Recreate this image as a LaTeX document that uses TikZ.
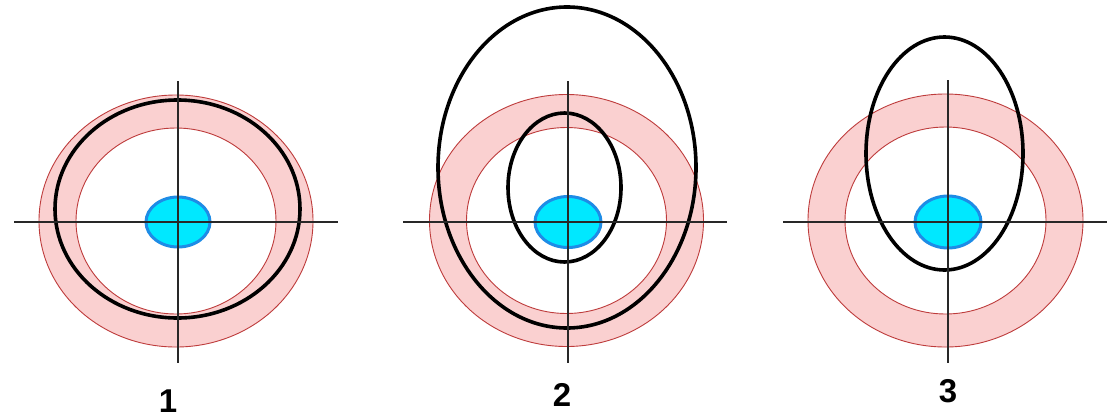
\documentclass[tikz,border=0pt]{standalone}
\usepackage{fontspec}
\setmainfont{Liberation Sans}
\definecolor{ringfill}{RGB}{250,208,208}
\definecolor{ringedge}{RGB}{190,60,60}
\definecolor{pupfill}{RGB}{0,232,255}
\definecolor{pupedge}{RGB}{30,140,230}
\definecolor{axiscol}{RGB}{40,40,40}
\tikzset{
  ringband/.style={fill=ringfill, even odd rule},
  ringline/.style={draw=ringedge, line width=0.9pt},
  axisline/.style={draw=axiscol, line width=1.3pt},
  orbit/.style={draw=black, line width=3.6pt},
  pupil/.style={fill=pupfill, draw=pupedge, line width=3pt},
  numlabel/.style={inner sep=0pt, font=\fontsize{33}{33}\selectfont\bfseries}
}
\begin{document}
\begin{tikzpicture}[x=1pt,y=-1pt]
\useasboundingbox[fill=white] (0,0) rectangle (1107,418);
% ---------- figure 1 ----------
\coordinate (r1) at (176,221);
\coordinate (c1) at (178,222);
\fill[ringband] (r1) ellipse (137 and 126) (r1) ellipse (100 and 93);
\draw[ringline] (r1) ellipse (137 and 126);
\draw[ringline] (r1) ellipse (100 and 93);
\draw[orbit] (177.5,209) ellipse (122.5 and 109);
\draw[pupil] (c1) ellipse (32 and 25);
\coordinate (h1a) at (14,222); \coordinate (h1b) at (338,222);
\coordinate (v1a) at (178,81); \coordinate (v1b) at (178,363);
\draw[axisline] (h1a) -- (h1b);
\draw[axisline] (v1a) -- (v1b);
\node[numlabel] (lab1) at (168,401) {1};
% ---------- figure 2 ----------
\coordinate (r2) at (566.5,220.5);
\coordinate (c2) at (568,222);
\fill[ringband] (r2) ellipse (137 and 126) (r2) ellipse (100 and 93);
\draw[ringline] (r2) ellipse (137 and 126);
\draw[ringline] (r2) ellipse (100 and 93);
\draw[orbit] (567,167.5) ellipse (129 and 160.5);
\draw[orbit] (564.5,187.5) ellipse (56.5 and 74.5);
\draw[pupil] (c2) ellipse (33 and 25.5);
\coordinate (h2a) at (403,222); \coordinate (h2b) at (727,222);
\coordinate (v2a) at (568,81); \coordinate (v2b) at (568,363);
\draw[axisline] (h2a) -- (h2b);
\draw[axisline] (v2a) -- (v2b);
\node[numlabel] (lab2) at (562,395) {2};
% ---------- figure 3 ----------
\coordinate (r3) at (945.5,220.5);
\coordinate (c3) at (948,222);
\fill[ringband] (r3) ellipse (137.5 and 126.5) (r3) ellipse (100.5 and 93.5);
\draw[ringline] (r3) ellipse (137.5 and 126.5);
\draw[ringline] (r3) ellipse (100.5 and 93.5);
\draw[orbit] (944.5,153.5) ellipse (78.5 and 116.5);
\draw[pupil] (c3) ellipse (33 and 26);
\coordinate (h3a) at (783,222); \coordinate (h3b) at (1107,222);
\coordinate (v3a) at (948,80); \coordinate (v3b) at (948,363);
\draw[axisline] (h3a) -- (h3b);
\draw[axisline] (v3a) -- (v3b);
\node[numlabel] (lab3) at (948,391) {3};
\end{tikzpicture}
\end{document}
